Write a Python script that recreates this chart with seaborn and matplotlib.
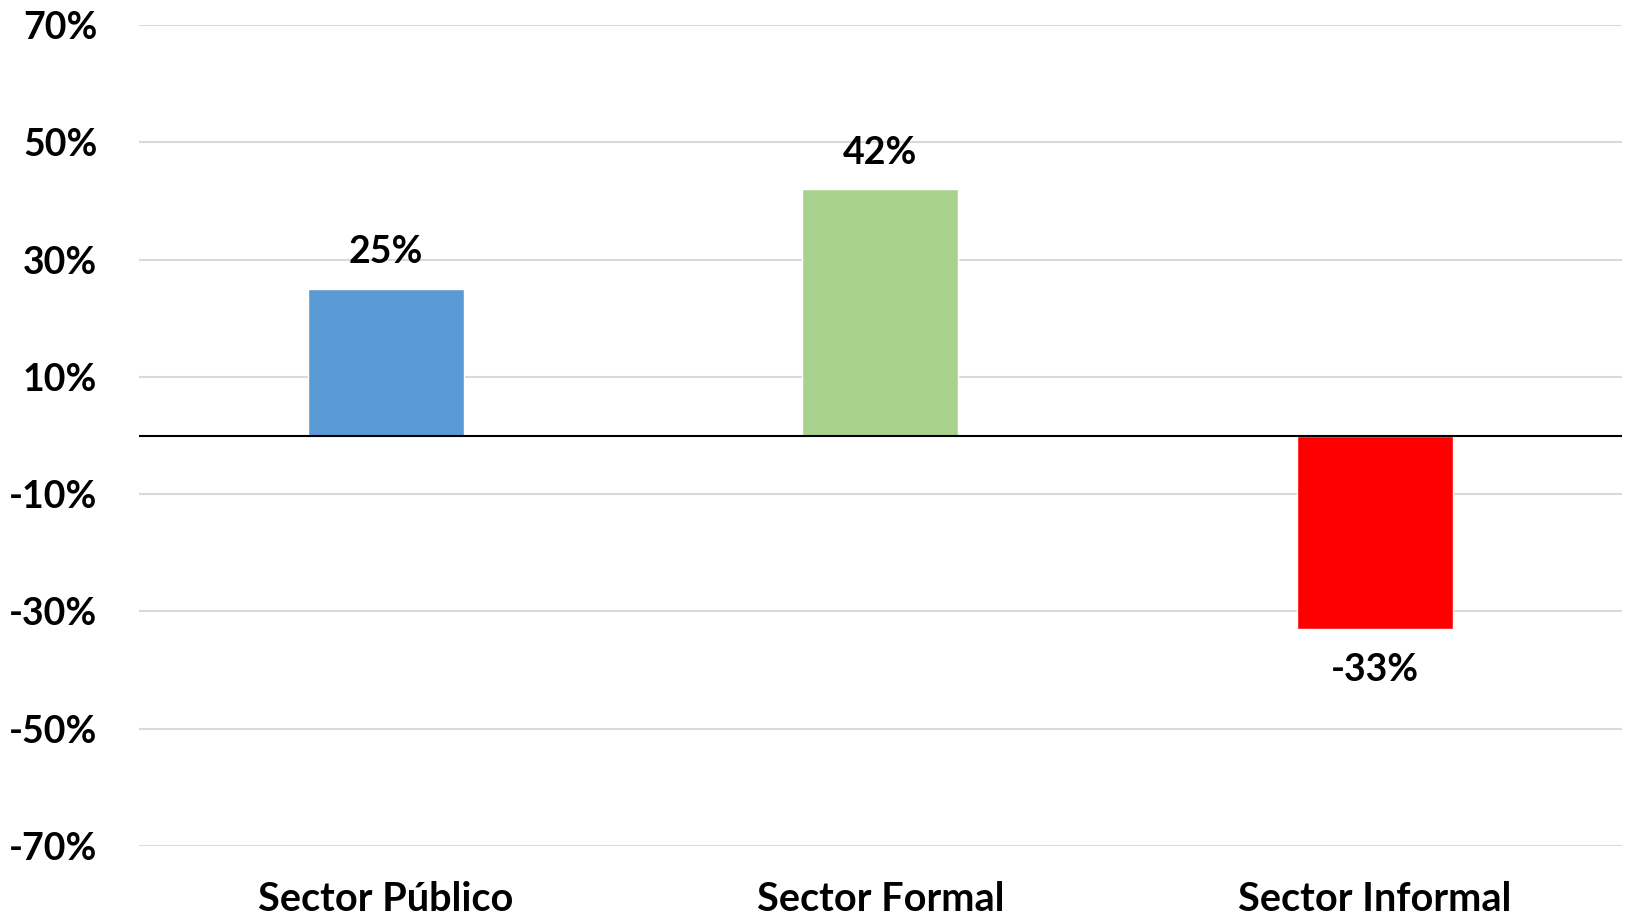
import pandas as pd
import matplotlib
matplotlib.use("Agg")
import matplotlib.pyplot as plt
import seaborn as sns

# === Data ===
sectors = ["Sector Público", "Sector Formal", "Sector Informal"]
change_pct = [25, 42, -33]
bar_colors = ["#5B9BD5", "#A9D18E", "#FF0000"]
y_ticks = [-70, -50, -30, -10, 10, 30, 50, 70]

df = pd.DataFrame({"Sector": sectors, "Cambio": change_pct})

sns.set_theme(style="white")
plt.rcParams["font.family"] = ["Lato", "DejaVu Sans"]
plt.rcParams["font.weight"] = "bold"
plt.rcParams["text.color"] = "black"
plt.rcParams["xtick.color"] = "black"
plt.rcParams["ytick.color"] = "black"

fig = plt.figure(figsize=(16.25, 9.19), dpi=100)
ax = fig.add_axes([0.0855, 0.0794, 0.9125, 0.8934])

sns.barplot(data=df, x="Sector", y="Cambio", hue="Sector", palette=bar_colors,
            width=0.316, saturation=1, legend=False, ax=ax, zorder=3)

ax.set_ylim(-70, 70)
ax.set_yticks(y_ticks)
ax.set_yticklabels([f"{t}%" for t in y_ticks])
ax.yaxis.grid(True, color="#d9d9d9", linewidth=1.5, zorder=0)
ax.axhline(0, color="black", linewidth=1.5, zorder=4)
ax.set_xlabel("")
ax.set_ylabel("")
sns.despine(ax=ax, left=True, bottom=True)
ax.tick_params(axis="both", length=0, labelsize=27, labelcolor="black")
ax.tick_params(axis="x", labelsize=28.5, pad=25)
ax.tick_params(axis="y", pad=30)
for lab in ax.get_xticklabels() + ax.get_yticklabels():
    lab.set_fontweight("bold")

# value labels
for bar, val in zip(ax.patches, change_pct):
    x = bar.get_x() + bar.get_width() / 2
    if val >= 0:
        ax.annotate(f"{val}%", (x, val), xytext=(0, 14), textcoords="offset points",
                    ha="center", va="bottom", fontsize=27, fontweight="bold", color="black")
    else:
        ax.annotate(f"{val}%", (x, val), xytext=(0, -17), textcoords="offset points",
                    ha="center", va="top", fontsize=27, fontweight="bold", color="black")

fig.savefig("out.png", dpi=100)
